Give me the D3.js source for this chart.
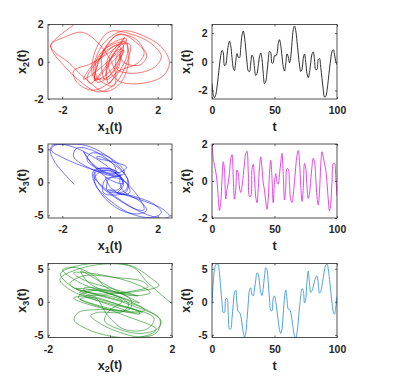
<html><head>
<meta charset="utf-8">
<script src="https://d3js.org/d3.v7.min.js"></script>
<style>
  body { margin: 0; background: #fff; }
  text { font-family: 'Liberation Sans', Arial, sans-serif; font-weight: bold; fill: #262626; }
  .axis path { display: none; }
  .axis line { stroke: #262626; stroke-width: 0.7; }
  .axis text { font-size: 10.5px; }
</style>
</head>
<body>
<script>
// sample times
const tVals = [0,1,2,3,4,5,6,7,8,9,10,11,12,13,14,15,16,17,18,19,20,21,22,23,24,25,26,27,28,29,
  30,31,32,33,34,35,36,37,38,39,40,41,42,43,44,45,46,47,48,49,50,51,52,53,54,55,56,57,58,59,
  60,61,62,63,64,65,66,67,68,69,70,71,72,73,74,75,76,77,78,79,80,81,82,83,84,85,86,87,88,89,
  90,91,92,93,94,95,96,97,98,99,100];

// state values
const x1Vals = [-1.5,-2.3,-2.5,-2.31,-1.77,-1.04,-0.23,0.43,0.79,0.63,
  -0.27,-0.2,0.43,1.13,1.43,1.1,0.29,-0.43,-0.62,0.04,
  0.57,0.32,0.28,0.98,1.87,2.15,1.73,0.88,-0.02,-0.64,
  -0.69,-0.09,0.46,0.3,-0.45,-0.96,-0.82,-0.27,0.34,0.61,
  0.18,-0.8,-1.53,-1.39,-0.73,0.12,0.73,0.64,-0.1,-0.05,
  0.42,0.41,0.57,1.26,1.54,1.13,0.39,-0.35,-0.65,-0.16,
  0.55,0.34,-0.07,0.34,1.34,2.24,2.49,2.17,1.41,0.54,
  -0.23,-0.68,-0.53,0.23,0.54,-0.03,-0.83,-1.11,-0.75,-0.06,
  0.53,0.69,0.14,-0.55,-0.54,0.15,0.23,-0.39,-1.16,-1.94,
  -2.46,-2.43,-2.01,-1.3,-0.5,0.2,0.7,0.84,0.52,0.03,-0.2];

const x2Vals = [2.0,1.2,0.85,0.5,0.0,-0.9,-1.6,-1.16,0.08,1.04,
  0.58,-0.97,-0.45,-0.1,0.45,1.2,1.42,0.21,-0.98,-0.47,
  0.6,0.41,-0.38,-0.62,-0.29,0.3,0.98,1.48,1.61,0.5,
  -0.84,-0.82,0.63,0.9,0.12,-0.86,-1.17,-0.4,0.75,1.3,
  0.7,-0.1,-0.5,-1.1,-1.53,-0.95,0.43,1.12,0.15,-1.18,
  -0.06,0.4,-0.04,-0.17,0.34,1.0,1.49,0.35,-1.03,-0.35,
  0.67,0.64,-0.2,-1.02,-1.16,-0.74,-0.03,0.77,1.39,1.65,
  1.04,-0.26,-1.1,-0.42,0.95,0.7,-0.33,-0.94,-0.68,0.05,
  0.79,1.23,1.04,0.14,-0.85,-1.3,-0.58,0.86,1.58,1.3,
  0.95,0.6,-0.1,-1.0,-1.62,-1.19,-0.08,0.93,0.95,0.2,-0.8];

const x3Vals = [-0.3,3.0,4.9,5.6,5.78,5.6,4.25,2.1,-0.1,-1.6,
  -1.6,0.43,0.52,-1.9,-4.14,-4.1,-2.48,-0.37,1.43,1.77,
  -0.31,-1.5,-1.6,-2.1,-3.36,-4.6,-5.33,-4.75,-2.7,-0.2,
  1.75,2.12,1.12,0.89,1.93,3.33,4.38,4.17,2.85,1.4,
  0.94,2.07,3.9,5.17,4.84,2.85,0.52,-1.26,-1.34,0.56,
  0.9,0.07,-1.38,-2.9,-4.22,-4.78,-4.12,-1.84,0.73,1.8,
  0.35,-1.1,-1.15,-1.6,-2.74,-4.12,-5.15,-5.44,-4.68,-2.94,
  -0.88,0.94,2.0,1.72,-0.17,0.45,3.1,4.65,2.87,1.42,
  1.69,2.32,3.1,3.7,3.94,2.7,1.31,1.58,2.46,3.67,
  4.83,5.58,5.75,5.0,3.4,1.56,-0.2,-1.5,-1.87,-0.8,0.8];

const ticksX12 = [-2, 0, 2];
const ticksX3 = [-5, 0, 5];
const ticksT = [0, 50, 100];

const width = 397, height = 385;
const svg = d3.select("body").append("svg")
  .attr("width", width).attr("height", height);

const colX = [[48, 172], [212, 337]];
const rowY = [[24.5, 99], [144, 218], [263.5, 337.5]];

const dom1 = [-2.6, 2.6], dom2 = [-2, 2], dom3 = [-5.4, 5.8], domT = [0, 100];

const panels = [
  {row: 0, col: 0, xs: x1Vals, ys: x2Vals, xDom: dom1, yDom: dom2, xt: ticksX12, yt: ticksX12, color: "#ff1a1a", lw: 0.6, xl: ["x", "1"], yl: ["x", "2"]},
  {row: 0, col: 1, xs: tVals, ys: x1Vals, xDom: domT, yDom: dom1, xt: ticksT, yt: ticksX12, color: "#1a1a1a", lw: 0.9, xl: ["t"], yl: ["x", "1"]},
  {row: 1, col: 0, xs: x1Vals, ys: x3Vals, xDom: dom1, yDom: dom3, xt: ticksX12, yt: ticksX3, color: "#1a1aff", lw: 0.6, xl: ["x", "1"], yl: ["x", "3"]},
  {row: 1, col: 1, xs: tVals, ys: x2Vals, xDom: domT, yDom: dom2, xt: ticksT, yt: ticksX12, color: "#e033e0", lw: 0.9, xl: ["t"], yl: ["x", "2"]},
  {row: 2, col: 0, xs: x2Vals, ys: x3Vals, xDom: dom2, yDom: dom3, xt: ticksX12, yt: ticksX3, color: "#1a8c1a", lw: 0.6, xl: ["x", "2"], yl: ["x", "3"]},
  {row: 2, col: 1, xs: tVals, ys: x3Vals, xDom: domT, yDom: dom3, xt: ticksT, yt: ticksX3, color: "#3b96dc", lw: 0.9, xl: ["t"], yl: ["x", "3"]}
];

const fmt = d => String(d);   // plain hyphen minus like the original

function addLabel(g, parts) {
  // x_n(t) style label, or plain "t"
  if (parts.length == 1) { g.text(parts[0]); return; }
  g.append("tspan").text(parts[0]);
  g.append("tspan").attr("font-size", "0.72em").attr("dy", "0.3em").text(parts[1]);
  g.append("tspan").attr("dy", "-0.22em").text("(t)");
}

panels.forEach((p, i) => {
  const [left, right] = colX[p.col];
  const [top, bottom] = rowY[p.row];
  const xScale = d3.scaleLinear().domain(p.xDom).range([left, right]);
  const yScale = d3.scaleLinear().domain(p.yDom).range([bottom, top]);

  svg.append("clipPath").attr("id", "clip" + i)
    .append("rect").attr("x", left).attr("y", top)
    .attr("width", right - left).attr("height", bottom - top);

  const line = d3.line()
    .x((d, k) => xScale(p.xs[k]))
    .y((d, k) => yScale(p.ys[k]))
    .curve(d3.curveCatmullRom.alpha(0.5));

  svg.append("path")
    .datum(tVals)
    .attr("clip-path", `url(#clip${i})`)
    .attr("d", line)
    .attr("fill", "none")
    .attr("stroke", p.color)
    .attr("stroke-width", p.lw);

  // axes with inward ticks, mirrored on top/right
  svg.append("g").attr("class", "axis")
    .attr("transform", `translate(0,${bottom})`)
    .call(d3.axisBottom(xScale).tickValues(p.xt).tickFormat(fmt).tickSizeInner(-2).tickSizeOuter(0).tickPadding(8));
  svg.append("g").attr("class", "axis")
    .attr("transform", `translate(0,${top})`)
    .call(d3.axisTop(xScale).tickValues(p.xt).tickSizeInner(-2).tickSizeOuter(0).tickFormat(""));
  svg.append("g").attr("class", "axis")
    .attr("transform", `translate(${left},0)`)
    .call(d3.axisLeft(yScale).tickValues(p.yt).tickFormat(fmt).tickSizeInner(-2).tickSizeOuter(0).tickPadding(4.5));
  svg.append("g").attr("class", "axis")
    .attr("transform", `translate(${right},0)`)
    .call(d3.axisRight(yScale).tickValues(p.yt).tickSizeInner(-2).tickSizeOuter(0).tickFormat(""));

  svg.append("rect")
    .attr("x", left).attr("y", top)
    .attr("width", right - left).attr("height", bottom - top)
    .attr("fill", "none").attr("stroke", "#262626").attr("stroke-width", 0.8);

  const xl = svg.append("text")
    .attr("x", (left + right) / 2).attr("y", bottom + 32)
    .attr("text-anchor", "middle").attr("font-size", 12.5);
  addLabel(xl, p.xl);

  const yl = svg.append("text")
    .attr("transform", `translate(${left - 22},${(top + bottom) / 2}) rotate(-90)`)
    .attr("text-anchor", "middle").attr("font-size", 12.5);
  addLabel(yl, p.yl);
});
</script>
</body>
</html>
